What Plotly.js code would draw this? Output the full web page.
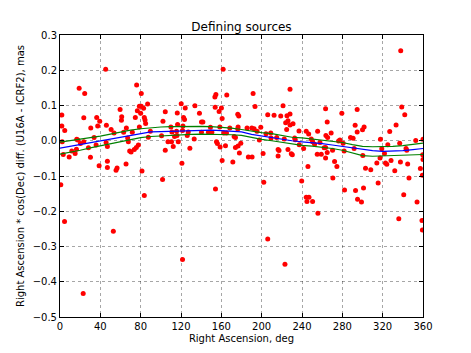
<!DOCTYPE html>
<html>
<head>
<meta charset="utf-8">
<script src="https://cdn.plot.ly/plotly-3.0.1.min.js"></script>
<style>
  html, body { margin: 0; padding: 0; background: #fff; }
  #graph { width: 471px; height: 353px; }
</style>
</head>
<body>
<div id="graph"></div>
<script>
// defining sources: right ascension (deg) and RA*cos(Dec) difference (mas)
var raDeg = [
  45.3, 19.0, 24.5, 76.0, 80.6, 1.8, 1.8, 4.7, 23.6, 59.6,
  61.2, 60.9, 36.4, 39.4, 37.4, 30.5, 46.0, 50.7, 53.6, 65.8,
  63.1, 74.7, 78.7, 78.7, 80.6, 80.0, 76.7, 82.9, 86.9, 83.6,
  84.3, 84.9, 71.7, 2.2, 16.6, 17.6, 20.3, 23.6, 33.8, 45.7,
  47.0, 35.8, 28.2, 11.7, 16.3, 15.0, 3.2, 9.1, 30.2, 67.8,
  67.1, 69.1, 70.5, 73.7, 75.7, 77.7, 47.0, 38.8, 47.0, 56.6,
  55.6, 65.5, 81.3, 0.8, 83.6,
  161.8, 165.4, 154.6, 153.6, 120.2, 104.4, 116.3, 124.2, 133.8, 138.3,
  153.9, 160.1, 157.8, 160.8, 176.3, 177.3, 122.5, 123.5, 102.1, 140.3,
  141.7, 116.6, 121.9, 110.0, 149.2, 158.5, 168.4, 176.6, 176.3, 111.0,
  115.6, 121.5, 127.2, 126.2, 140.3, 147.2, 150.6, 162.5, 165.1, 100.7,
  113.6, 116.0, 172.7, 174.0, 133.1, 107.1, 110.6, 117.3, 155.2, 156.1,
  179.3, 112.3, 164.1, 158.8, 128.8, 174.0, 176.6, 104.4, 177.9, 160.8,
  171.4, 120.9, 101.7, 154.2, 89.6, 87.6,
  191.5, 228.1, 193.4, 221.2, 206.0, 212.3, 218.9, 225.1, 228.1, 226.1,
  223.8, 228.1, 231.1, 224.8, 237.0, 244.2, 246.6, 255.5, 263.4, 265.0,
  263.7, 265.4, 268.9, 185.5, 190.2, 192.5, 195.4, 199.1, 204.3, 209.0,
  209.3, 214.9, 197.7, 222.4, 232.7, 233.3, 237.3, 241.6, 249.2, 250.5,
  252.5, 257.8, 262.0, 263.4, 186.8, 190.5, 201.4, 216.3, 217.2, 216.3,
  226.1, 229.4, 230.4, 255.1, 259.1, 263.4, 265.0, 245.9, 202.1, 239.7,
  244.2, 246.9, 244.9, 250.5,
  337.9, 338.9, 341.9, 294.7, 279.5, 292.7, 301.6, 300.0, 294.7, 327.0,
  333.3, 288.1, 290.7, 277.6, 276.3, 270.3, 280.8, 281.8, 291.7, 317.8,
  325.1, 336.9, 343.2, 343.9, 352.8, 360.0, 319.1, 321.8, 317.4, 300.3,
  322.8, 324.1, 328.3, 337.6, 344.8, 359.7, 360.0, 357.4, 359.4, 303.0,
  308.2, 314.2, 332.0, 346.1, 272.3, 274.6, 270.6, 315.5, 282.2, 293.1,
  301.0, 295.1, 299.0, 340.9, 354.1,
  4.5, 23.0, 52.9, 121.5, 206.0, 223.1, 255.8, 336.0, 359.0, 359.4
];
var raDiff = [
  0.203, 0.149, 0.134, 0.158, 0.134, 0.073, 0.042, 0.029, 0.065, 0.089,
  0.068, 0.058, 0.066, 0.055, 0.042, 0.036, 0.044, 0.032, 0.022, 0.036,
  0.024, 0.066, 0.039, 0.098, 0.098, 0.078, 0.085, 0.092, 0.104, 0.066,
  0.059, 0.049, 0.024, -0.003, 0.004, 0.002, -0.008, -0.003, 0.009, -0.005,
  -0.016, -0.012, -0.020, -0.029, -0.024, -0.036, -0.039, -0.046, -0.047, -0.003,
  0.008, -0.029, -0.032, -0.025, -0.019, -0.012, -0.058, -0.071, -0.076, -0.077,
  -0.084, -0.066, -0.086, -0.125, -0.155,
  0.203, 0.130, 0.131, 0.124, 0.105, 0.082, 0.079, 0.093, 0.099, 0.078,
  0.095, 0.093, 0.083, 0.063, 0.075, 0.070, 0.066, 0.060, 0.055, 0.053,
  0.053, 0.046, 0.042, 0.039, 0.038, 0.039, 0.036, 0.039, 0.033, 0.025,
  0.027, 0.029, 0.025, 0.015, 0.024, 0.024, 0.024, 0.022, 0.022, 0.014,
  0.012, 0.015, 0.012, 0.009, 0.005, -0.003, -0.003, -0.003, -0.003, -0.008,
  -0.007, -0.016, -0.014, -0.018, -0.021, -0.019, -0.015, -0.027, -0.035, -0.056,
  -0.060, -0.064, -0.110, -0.137, 0.027, 0.010,
  0.134, 0.146, 0.097, 0.099, 0.074, 0.072, 0.070, 0.071, 0.076, 0.057,
  0.051, 0.045, 0.048, 0.032, 0.028, 0.027, 0.019, 0.027, 0.091, 0.053,
  0.015, 0.009, 0.022, 0.036, 0.036, 0.034, 0.027, 0.038, 0.020, 0.022,
  0.008, 0.009, 0.002, 0.005, 0.008, 0.003, -0.011, -0.022, 0.005, -0.003,
  -0.010, -0.005, -0.020, -0.019, -0.046, -0.046, -0.036, -0.025, -0.028, -0.043,
  -0.025, -0.037, -0.040, -0.038, -0.038, -0.049, -0.033, -0.073, -0.118, -0.114,
  -0.160, -0.160, -0.172, -0.172,
  0.255, 0.096, 0.074, 0.089, 0.078, 0.044, 0.039, 0.031, 0.025, 0.026,
  0.045, 0.009, 0.007, 0.002, -0.001, -0.027, -0.007, -0.029, -0.022, 0.004,
  -0.011, -0.007, -0.022, -0.027, 0.001, 0.004, -0.023, -0.036, -0.049, -0.042,
  -0.063, -0.067, -0.056, -0.060, -0.066, -0.040, -0.053, -0.079, -0.098, -0.078,
  -0.082, -0.063, -0.085, -0.106, -0.059, -0.073, -0.106, -0.120, -0.140, -0.141,
  -0.134, -0.166, -0.174, -0.153, -0.174,
  -0.229, -0.433, -0.257, -0.337, -0.279, -0.350, -0.206, -0.221, -0.226, -0.253
];

// smoothed mean and its error band
var binRA = [0, 10, 20, 30, 40, 50, 60, 70, 80, 90, 100, 110, 120, 130, 140, 150, 160, 170, 180,
             190, 200, 210, 220, 230, 240, 250, 260, 270, 280, 290, 300, 310, 320, 330, 340, 350, 360];
var meanDiff = [-0.021, -0.016, -0.011, -0.006, -0.001, 0.004, 0.010, 0.016, 0.021, 0.025,
                0.026, 0.027, 0.028, 0.029, 0.030, 0.030, 0.029, 0.028, 0.025, 0.018,
                0.013, 0.010, 0.004, 0.000, -0.003, -0.005, -0.008, -0.012, -0.016, -0.022,
                -0.026, -0.028, -0.030, -0.030, -0.028, -0.025, -0.022];
var upperDiff = [-0.004, 0.000, 0.004, 0.008, 0.013, 0.019, 0.025, 0.030, 0.034, 0.037,
                 0.039, 0.040, 0.041, 0.041, 0.041, 0.040, 0.039, 0.036, 0.032, 0.027,
                 0.023, 0.020, 0.015, 0.010, 0.008, 0.005, 0.001, -0.002, -0.005, -0.011,
                 -0.016, -0.017, -0.017, -0.016, -0.014, -0.011, -0.007];
var lowerDiff = [-0.038, -0.033, -0.027, -0.020, -0.014, -0.009, -0.002, 0.004, 0.009, 0.012,
                 0.014, 0.016, 0.017, 0.018, 0.019, 0.019, 0.018, 0.017, 0.015, 0.009,
                 0.004, 0.000, -0.005, -0.009, -0.013, -0.015, -0.018, -0.022, -0.027, -0.034,
                 -0.042, -0.044, -0.043, -0.042, -0.041, -0.040, -0.039];

var xTicks = [0, 40, 80, 120, 160, 200, 240, 280, 320, 360];

function drawGraph() {
    var points = {
        x: raDeg, y: raDiff,
        type: 'scatter', mode: 'markers',
        marker: { color: '#ff0000', size: 5 },
        hoverinfo: 'none'
    };
    var upper = {
        x: binRA, y: upperDiff, type: 'scatter', mode: 'lines',
        line: { color: '#008000', width: 1.2 }, hoverinfo: 'none'
    };
    var lower = {
        x: binRA, y: lowerDiff, type: 'scatter', mode: 'lines',
        line: { color: '#008000', width: 1.2 }, hoverinfo: 'none'
    };
    var mean = {
        x: binRA, y: meanDiff, type: 'scatter', mode: 'lines',
        line: { color: '#0000ff', width: 1.2 }, hoverinfo: 'none'
    };

    var axisCommon = {
        showline: true, linecolor: '#000', linewidth: 1, mirror: 'allticks',
        ticks: 'inside', ticklen: 4, tickcolor: '#000',
        showgrid: true, gridcolor: 'rgba(0,0,0,0.35)', griddash: 'dot', gridwidth: 1,
        zeroline: false,
        tickfont: { family: 'DejaVu Sans', size: 10, color: '#000' }
    };

    var layout = {
        width: 471, height: 353,
        margin: { l: 60, r: 48, t: 35, b: 36 },
        paper_bgcolor: '#fff', plot_bgcolor: '#fff',
        showlegend: false,
        font: { family: 'DejaVu Sans', color: '#000' },
        title: {
            text: 'Defining sources',
            font: { family: 'DejaVu Sans', size: 12, color: '#000' },
            x: 0.5, xref: 'paper', y: 1 - 27 / 353, yref: 'container', yanchor: 'middle'
        },
        xaxis: Object.assign({}, axisCommon, {
            range: [0, 360], tickvals: xTicks,
            title: { text: 'Right Ascension, deg', font: { family: 'DejaVu Sans', size: 10, color: '#000' }, standoff: 3 }
        }),
        yaxis: Object.assign({}, axisCommon, {
            range: [-0.5, 0.3], dtick: 0.1, tickformat: '.1f',
            title: { text: 'Right Ascension * cos(Dec) diff. (U16A - ICRF2), mas', font: { family: 'DejaVu Sans', size: 10, color: '#000' }, standoff: 6 }
        })
    };

    Plotly.newPlot('graph', [points, upper, lower, mean], layout, { staticPlot: true, displayModeBar: false });
}

drawGraph();
</script>
</body>
</html>
